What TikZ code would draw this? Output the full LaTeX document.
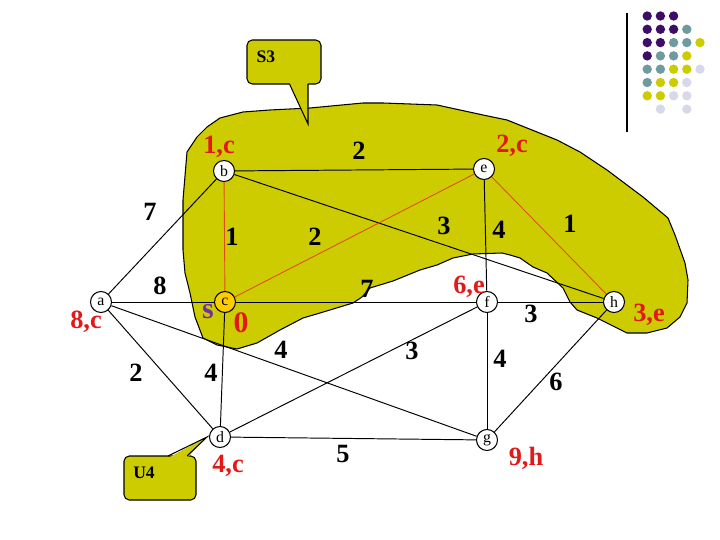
\documentclass[tikz,border=0pt]{standalone}
\usepackage{fontspec}
\setmainfont{Liberation Serif}
\definecolor{olv}{RGB}{204,204,0}
\definecolor{gold}{RGB}{255,204,0}
\definecolor{lblred}{RGB}{225,25,25}
\definecolor{edgered}{RGB}{225,75,25}
\definecolor{spurple}{RGB}{112,48,160}
\definecolor{dP}{RGB}{62,14,102}
\definecolor{dT}{RGB}{110,155,158}
\definecolor{dY}{RGB}{204,204,0}
\definecolor{dL}{RGB}{216,216,235}
\tikzset{
  vtx/.style={circle,draw,fill=white,inner sep=0pt,minimum size=0.42cm,line width=0.6pt,font=\fontsize{9}{9}\selectfont},
  edge/.style={line width=0.55pt},
  redge/.style={line width=0.5pt,edgered},
  wlbl/.style={inner sep=0pt,font=\bfseries\fontsize{15}{15}\selectfont},
  rlbl/.style={wlbl,text=lblred},
  callout/.style={fill=olv,draw,line width=0.6pt},
  ctext/.style={inner sep=0pt,font=\bfseries\fontsize{10}{10}\selectfont}
}
\begin{document}
\begin{tikzpicture}[x=0.02cm,y=-0.02cm]
\useasboundingbox (0,0) rectangle (720,540);
% blob
\filldraw[fill=olv,draw=black,line width=0.6pt]
 (187,152) -- (197,137) -- (207,127) -- (220,118) -- (243,112) -- (270,110) -- (310,108) -- (363,103) -- (383,103) -- (437,105) -- (483,115) -- (507,120) -- (527,128) -- (557,140) -- (580,152) -- (607,170) -- (643,197) -- (668,218) -- (675,235) -- (685,263) -- (688,280) -- (687,303) -- (680,317) -- (667,328) -- (647,333) -- (627,333) -- (617,328) -- (597,318) -- (577,310) -- (570,302) -- (563,288) -- (547,273) -- (533,267) -- (520,258) -- (510,255) -- (502,253) -- (473,254) -- (453,258) -- (437,265) -- (420,270) -- (393,281) -- (370,288) -- (362,297) -- (353,303) -- (320,313) -- (303,318) -- (280,330) -- (257,343) -- (237,349) -- (217,345) -- (203,338) -- (195,317) -- (190,293) -- (185,273) -- (183,250) -- (183,200) -- cycle;
% S3 callout
\filldraw[callout,rounded corners=3pt] (247,40) rectangle (321,84);
\fill[olv] (289,82) -- (308,124) -- (308,82) -- cycle;
\draw[line width=0.6pt] (289.5,84) -- (308,124) -- (308,84);
\node[ctext] (s3) at (266,57) {S3};
% U4 callout
\filldraw[callout,rounded corners=3pt] (124,456) rectangle (196,500);
\fill[olv] (168,458) -- (207,437) -- (187,458) -- cycle;
\draw[line width=0.6pt] (168,456) -- (207,437) -- (187,456);
\node[ctext] (u4) at (144,473) {U4};
% nodes
\node[vtx] (a) at (101,302) {a};
\node[vtx] (b) at (224,171) {b};
\node[vtx,fill=gold] (c) at (225,302) {c};
\node[vtx] (d) at (220,437) {d};
\node[vtx] (e) at (484,169) {e};
\node[vtx] (f) at (487,302) {f};
\node[vtx] (g) at (487,440) {g};
\node[vtx] (h) at (614,302) {h};
% edges
\draw[edge] (a) -- (b);
\draw[edge] (a) -- (c);
\draw[edge] (a) -- (d);
\draw[edge] (a) -- (g);
\draw[edge] (b) -- (e);
\draw[edge] (b) -- (h);
\draw[edge] (c) -- (f);
\draw[edge] (c) -- (d);
\draw[edge] (d) -- (f);
\draw[edge] (d) -- (g);
\draw[edge] (e) -- (f);
\draw[edge] (f) -- (h);
\draw[edge] (f) -- (g);
\draw[edge] (g) -- (h);
\draw[redge] (b) -- (c);
\draw[redge] (c) -- (e);
\draw[redge] (e) -- (h);
% weights
\node[wlbl] (w1) at (150,212) {7};
\node[wlbl] (w2) at (232,237) {1};
\node[wlbl] (w3) at (315,237) {2};
\node[wlbl] (w4) at (359,151) {2};
\node[wlbl] (w5) at (444,226) {3};
\node[wlbl] (w6) at (499,230) {4};
\node[wlbl] (w7) at (570,224) {1};
\node[wlbl] (w8) at (160,286) {8};
\node[wlbl] (w9) at (136,373) {2};
\node[wlbl] (w10) at (211,373) {4};
\node[wlbl] (w11) at (281,350) {4};
\node[wlbl] (w12) at (343,454) {5};
\node[wlbl] (w13) at (367,289) {7};
\node[wlbl] (w14) at (531,314) {3};
\node[wlbl] (w15) at (412,351) {3};
\node[wlbl] (w16) at (500,359) {4};
\node[wlbl] (w17) at (556,382) {6};
% red labels
\node[rlbl] (l1) at (219,147) {1,c};
\node[rlbl] (l2) at (512,146) {2,c};
\node[rlbl] (l3) at (86,322) {8,c};
\node[rlbl] (l4) at (469,287) {6,e};
\node[rlbl] (l5) at (649,315) {3,e};
\node[rlbl] (l6) at (228,466) {4,c};
\node[rlbl] (l7) at (526,458) {9,h};
\node[inner sep=0pt,text=spurple,font=\bfseries\fontsize{17}{17}\selectfont] (sl) at (208,312) {s};
\node[inner sep=0pt,text=lblred,font=\bfseries\fontsize{17}{17}\selectfont] (zl) at (241,323) {0};
% decoration
\draw[line width=0.6pt] (627,13) -- (627,132);
\foreach \c/\r/\col in {1/1/dP,2/1/dP,3/1/dP,
  1/2/dP,2/2/dP,3/2/dP,4/2/dT,
  1/3/dP,2/3/dP,3/3/dT,4/3/dT,5/3/dY,
  1/4/dP,2/4/dT,3/4/dT,4/4/dY,
  1/5/dT,2/5/dT,3/5/dY,4/5/dY,5/5/dL,
  1/6/dT,2/6/dY,3/6/dY,4/6/dL,
  1/7/dY,2/7/dY,3/7/dL,4/7/dL,
  2/8/dL,4/8/dL}
  \fill[\col] ({634+13.2*\c},{16+13.3*(\r-1)}) circle[radius=0.094cm];
\end{tikzpicture}
\end{document}
